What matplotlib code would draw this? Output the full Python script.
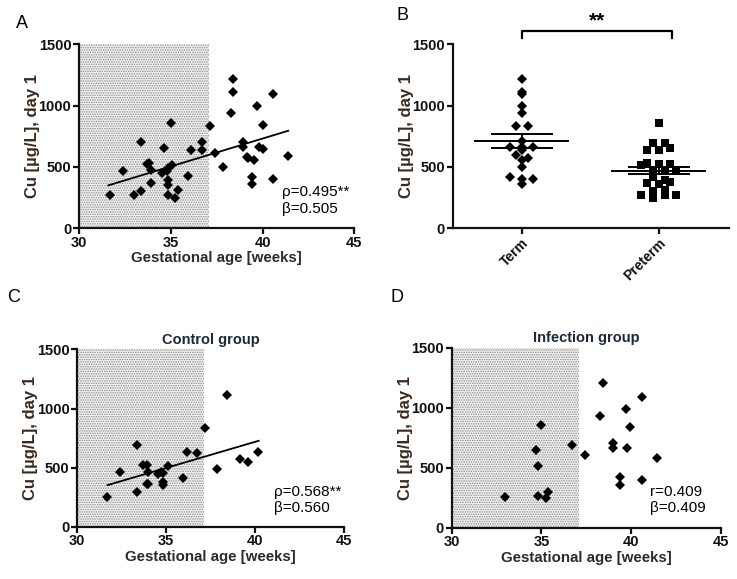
import numpy as np
import matplotlib.pyplot as plt

plt.rcParams['font.family'] = ['Liberation Sans', 'DejaVu Sans']

# ---- data ----
# panel A: all infants
ga_all = [31.69, 32.38, 32.98, 33.40, 33.40, 33.69, 33.80, 33.92, 33.92, 34.65,
          34.54, 34.83, 34.80, 34.83, 34.83, 34.83, 35.00, 35.09, 35.24, 35.41,
          35.96, 36.10, 36.69, 36.69, 37.12, 37.41, 37.83, 38.27, 38.39, 38.39,
          38.95, 38.95, 39.14, 39.20, 39.55, 39.41, 39.41, 39.68, 39.83, 40.01,
          40.05, 40.59, 40.59, 41.41]
cu_all = [271, 470, 269, 701, 304, 524, 530, 475, 372, 652,
          448, 494, 470, 394, 353, 271, 858, 516, 247, 312,
          426, 638, 706, 638, 834, 611, 497, 943, 1215, 1114,
          706, 665, 579, 570, 557, 421, 361, 997, 665, 842,
          644, 1092, 399, 589]
fitA_x = [31.6, 41.4]
fitA_y = [350, 795]

# panel B: term vs preterm
term = [1215, 1092, 1114, 997, 943, 834, 834, 714, 665, 665,
        665, 638, 595, 570, 557, 497, 421, 399, 399, 361]
preterm = [861, 693, 693, 638, 638, 652, 535, 524, 516, 524,
           443, 475, 475, 475, 465, 421, 394, 367, 360, 380,
           307, 312, 271, 250, 271, 271]
groups = ['Term', 'Preterm']

# panel C: control group
ga_ctrl = [31.69, 32.40, 33.38, 33.38, 33.70, 33.90, 33.99, 33.90, 34.00, 34.56,
           34.70, 34.80, 34.84, 34.84, 35.12, 35.96, 36.15, 36.71, 37.18, 37.88,
           38.44, 39.15, 39.62, 40.14]
cu_ctrl = [254, 465, 691, 296, 522, 522, 465, 358, 358, 443,
           465, 451, 381, 352, 513, 414, 634, 626, 832, 485,
           1111, 570, 544, 634]
fitC_x = [31.7, 40.2]
fitC_y = [352, 727]

# panel D: infection group
ga_inf = [32.97, 34.68, 34.83, 34.83, 34.98, 35.26, 35.39, 36.69, 37.43, 38.27,
          38.42, 39.01, 39.01, 39.39, 39.39, 39.72, 39.92, 39.79, 40.60, 40.60,
          41.43]
cu_inf = [258, 647, 514, 267, 856, 244, 300, 689, 606, 933,
          1208, 703, 661, 419, 356, 989, 842, 661, 1092, 397,
          583]

preterm_limit = 37.1

ylab_col = '#3a2a1e'
xlab_col = '#2a2a2a'
title_col = '#1e2838'

fig = plt.figure(figsize=(7.37, 5.79), dpi=100)
axA = fig.add_axes([0.1072, 0.6057, 0.3735, 0.3178])
axB = fig.add_axes([0.6143, 0.6057, 0.3753, 0.3178])
axC = fig.add_axes([0.1049, 0.0903, 0.3619, 0.3062])
axD = fig.add_axes([0.6129, 0.0886, 0.3650, 0.3109])

plt.rcParams['hatch.linewidth'] = 0.7


def style_axes(ax):
    for s in ['top', 'right']:
        ax.spines[s].set_visible(False)
    for s in ['left', 'bottom']:
        ax.spines[s].set_linewidth(1.6)
        ax.spines[s].set_color('#111111')
    ax.tick_params(direction='out', length=4, width=1.6, colors='#111111',
                   labelsize=10.5, pad=1.5)
    for lab in ax.get_xticklabels() + ax.get_yticklabels():
        lab.set_fontweight('bold')
    ax.set_ylim(0, 1500)
    ax.set_yticks([0, 500, 1000, 1500])
    ax.set_ylabel('Cu [\u00b5g/L], day 1', fontsize=12, fontweight='bold',
                  color=ylab_col, labelpad=-1)


def scatter_panel(ax, x, y, fit_x=None, fit_y=None):
    ax.axvspan(30, preterm_limit, facecolor='#f0f0f0', edgecolor='#8c8c8c',
               hatch='.......', linewidth=0, zorder=0)
    ax.plot(x, y, 'D', color='black', markersize=4.6, zorder=3,
            markeredgewidth=0)
    if fit_x is not None:
        ax.plot(fit_x, fit_y, '-', color='black', linewidth=1.3, zorder=2)
    ax.set_xlim(30, 45)
    ax.set_xticks([30, 35, 40, 45])
    style_axes(ax)
    ax.set_xlabel('Gestational age [weeks]', fontsize=10.8, fontweight='bold',
                  color=xlab_col, labelpad=1)


def stat_text(ax, line1, line2):
    ax.text(0.737, 0.175, line1, transform=ax.transAxes, fontsize=11,
            ha='left', va='baseline')
    ax.text(0.737, 0.085, line2, transform=ax.transAxes, fontsize=11,
            ha='left', va='baseline')


# A
scatter_panel(axA, ga_all, cu_all, fitA_x, fitA_y)
stat_text(axA, '\u03c1=0.495**', '\u03b2=0.505')

# C
scatter_panel(axC, ga_ctrl, cu_ctrl, fitC_x, fitC_y)
stat_text(axC, '\u03c1=0.568**', '\u03b2=0.560')
axC.set_title('Control group', fontsize=10.5, fontweight='bold', color=title_col, pad=4)

# D
scatter_panel(axD, ga_inf, cu_inf)
stat_text(axD, 'r=0.409', '\u03b2=0.409')
axD.set_title('Infection group', fontsize=10.5, fontweight='bold', color=title_col, pad=4)


# B: column scatter with mean +/- SEM
def spread(values, row=45, step=0.085):
    vals = np.asarray(values, dtype=float)
    offs = np.zeros(len(vals))
    bins = np.round(vals / row)
    for b in np.unique(bins):
        idx = np.where(bins == b)[0]
        n = len(idx)
        offs[idx] = (np.arange(n) - (n - 1) / 2) * step
    return offs


for i, (vals, mk, ms) in enumerate([(term, 'D', 4.6), (preterm, 's', 5.6)]):
    xs = i + spread(vals)
    axB.plot(xs, vals, mk, color='black', markersize=ms, zorder=3,
             markeredgewidth=0)
    m = np.mean(vals)
    sem = np.std(vals, ddof=1) / np.sqrt(len(vals))
    axB.plot([i - 0.34, i + 0.34], [m, m], color='black', lw=1.4, zorder=4)
    axB.plot([i - 0.22, i + 0.22], [m + sem, m + sem], color='black', lw=1.4, zorder=4)
    axB.plot([i - 0.22, i + 0.22], [m - sem, m - sem], color='black', lw=1.4, zorder=4)
    axB.plot([i, i], [m - sem, m + sem], color='black', lw=1.4, zorder=4)

axB.set_xlim(-0.504, 1.515)
axB.set_xticks([0, 1])
axB.set_xticklabels(groups, rotation=45, ha='right', rotation_mode='anchor')
style_axes(axB)
for lab in axB.get_xticklabels():
    lab.set_fontsize(10)

# significance bracket
axB.plot([0, 0, 1.1, 1.1], [1554, 1611, 1611, 1554], color='black', lw=1.6,
         clip_on=False)
axB.text(0.55, 1690, '**', ha='center', va='center', fontsize=15,
         fontweight='bold')

# panel letters
for lab, (x, y) in zip('ABCD', [(16, 23), (396, 16), (7, 298), (390, 298)]):
    fig.text(x / 737, 1 - y / 579, lab, fontsize=13, ha='left', va='center')

fig.savefig('out.png', dpi=100)
